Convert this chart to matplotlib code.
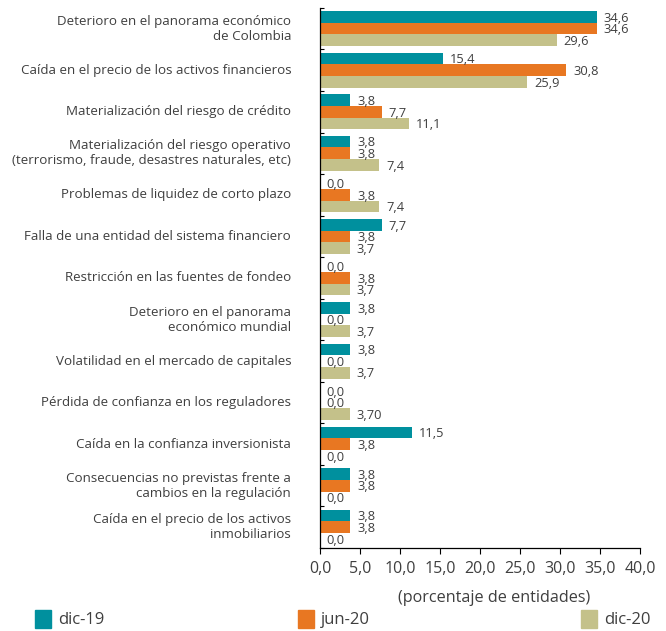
import numpy as np
import matplotlib.pyplot as plt
from matplotlib.patches import Patch

plt.rcParams['font.family'] = ['Open Sans', 'DejaVu Sans']

categorias = [
    "Deterioro en el panorama económico\nde Colombia",
    "Caída en el precio de los activos financieros",
    "Materialización del riesgo de crédito",
    "Materialización del riesgo operativo\n(terrorismo, fraude, desastres naturales, etc)",
    "Problemas de liquidez de corto plazo",
    "Falla de una entidad del sistema financiero",
    "Restricción en las fuentes de fondeo",
    "Deterioro en el panorama\neconómico mundial",
    "Volatilidad en el mercado de capitales",
    "Pérdida de confianza en los reguladores",
    "Caída en la confianza inversionista",
    "Consecuencias no previstas frente a\ncambios en la regulación",
    "Caída en el precio de los activos\ninmobiliarios",
]
dic19 = [34.6, 15.4, 3.8, 3.8, 0.0, 7.7, 0.0, 3.8, 3.8, 0.0, 11.5, 3.8, 3.8]
jun20 = [34.6, 30.8, 7.7, 3.8, 3.8, 3.8, 3.8, 0.0, 0.0, 0.0, 3.8, 3.8, 3.8]
dic20 = [29.6, 25.9, 11.1, 7.4, 7.4, 3.7, 3.7, 3.7, 3.7, 3.7, 0.0, 0.0, 0.0]
# decimales de las etiquetas de dic-20 (en el original aparece "3,70")
dec_dic20 = [1, 1, 1, 1, 1, 1, 1, 1, 1, 2, 1, 1, 1]

series = [
    ("dic-19", dic19, "#00909E", [1] * len(dic19)),
    ("jun-20", jun20, "#E87722", [1] * len(jun20)),
    ("dic-20", dic20, "#C4C18A", dec_dic20),
]
gris = "#3f3f3f"

fig = plt.figure(figsize=(6.66, 6.31), dpi=100)
ax = fig.add_axes([0.4805, 0.1315, 0.4805, 0.856])

n = len(categorias)
y = np.arange(n)
h = 0.28
for k, (nombre, vals, color, decs) in enumerate(series):
    pos = y + (k - 1) * h
    ax.barh(pos, vals, height=h, color=color, label=nombre)
    for p, v, d in zip(pos, vals, decs):
        txt = f"{v:.{d}f}".replace(".", ",")
        ax.text(v + 0.85, p + 0.03, txt, va="center", ha="left",
                fontsize=9.3, color=gris)

ax.set_ylim(n - 0.5, -0.5)
ax.set_xlim(0, 40)
ticks = np.arange(0, 40.1, 5)
ax.set_xticks(ticks)
ax.set_xticklabels([f"{t:.1f}".replace(".", ",") for t in ticks],
                   fontsize=11.5, color=gris)
ax.set_yticks(np.arange(-0.5, n, 1))
ax.set_yticklabels([])
ax.tick_params(axis="y", direction="in", length=3, width=0.8)
ax.tick_params(axis="x", direction="out", length=4, width=0.8, pad=5)
for y0, lab in zip(y, categorias):
    ax.text(-3.6, y0, lab, ha="right", va="center",
            fontsize=9.6, color=gris, multialignment="right")
for s in ["top", "right"]:
    ax.spines[s].set_visible(False)
ax.spines["left"].set_linewidth(0.9)
ax.spines["bottom"].set_linewidth(0.9)
ax.set_xlabel("(porcentaje de entidades)", fontsize=11.6, color=gris)
ax.xaxis.set_label_coords(0.545, -0.078)

# leyenda: tres entradas separadas, como en el original
for (nombre, _, color, _), x0 in zip(series, [0.0525, 0.447, 0.872]):
    fig.legend([Patch(color=color)], [nombre], loc="lower left",
               bbox_to_anchor=(x0, 0.004), frameon=False, fontsize=12,
               handlelength=0.95, handleheight=1.25, handletextpad=0.45,
               borderpad=0, borderaxespad=0, labelcolor=gris)

fig.savefig("out.png", dpi=100)
